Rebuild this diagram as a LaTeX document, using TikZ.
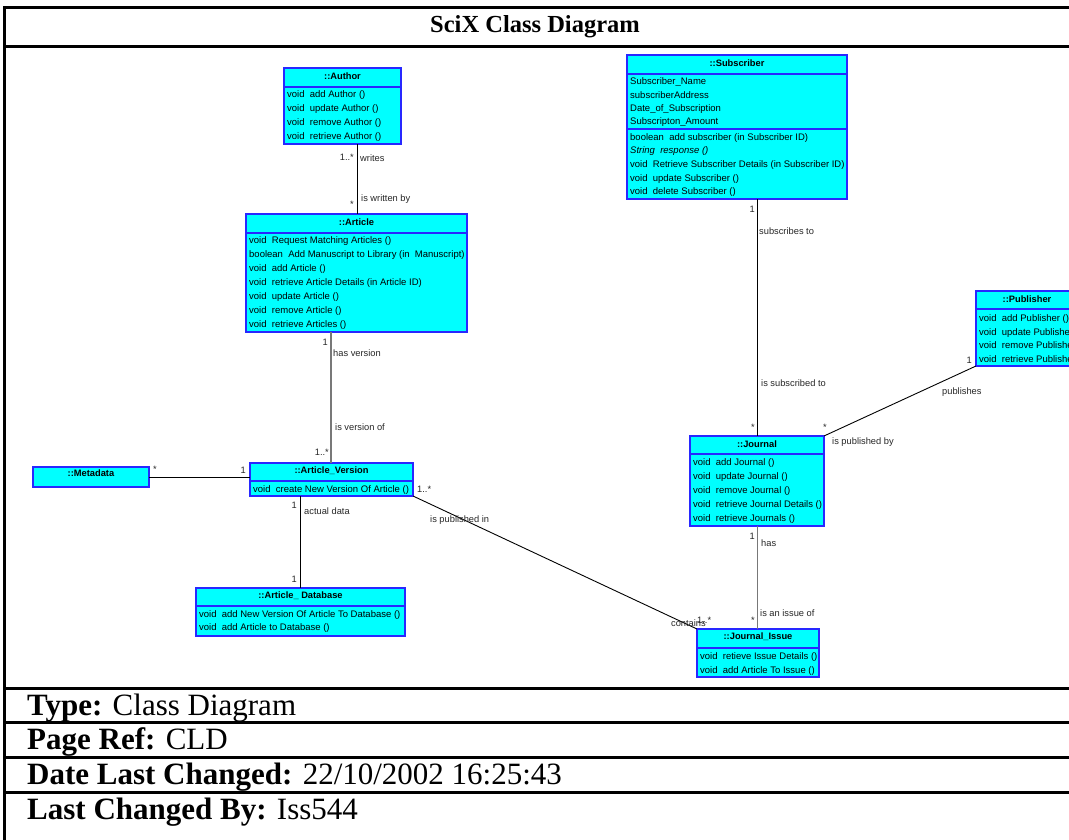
\documentclass[tikz,border=0pt]{standalone}
\usepackage{fontspec}
\setmainfont{Liberation Serif}
\newfontfamily\arialfont{Liberation Sans}
\usetikzlibrary{calc}
\definecolor{clsfill}{RGB}{0,255,255}
\definecolor{clsline}{RGB}{40,40,255}
\definecolor{linkgray}{RGB}{120,120,120}
\tikzset{
  clsbox/.style={draw=clsline, fill=clsfill, line width=1.2pt, inner sep=0pt, outer sep=0pt, anchor=north west},
  clssep/.style={draw=clsline, line width=2pt},
  attsep/.style={draw=clsline, line width=1.1pt},
  hdr/.style={font=\arialfont\bfseries\fontsize{9.3}{10}\selectfont, inner sep=0pt},
  meth/.style={font=\arialfont\fontsize{9.5}{10}\selectfont, inner sep=0pt, anchor=west},
  lbl/.style={font=\arialfont\fontsize{9.3}{10}\selectfont, inner sep=0pt, text=black!85},
  link/.style={draw=black, line width=0.9pt},
  glink/.style={draw=linkgray, line width=1.2pt},
  frame/.style={draw=black, line width=3pt},
  rowtxt/.style={font=\fontsize{31}{34}\selectfont, inner sep=0pt, anchor=west}
}
\begin{document}
\begin{tikzpicture}[x=1pt,y=-1pt]
\useasboundingbox (0,0) rectangle (1069,840);
\clip (0,0) rectangle (1069,840);

% outer form with title and information rows
\draw[frame] (4.5,7.5) rectangle (1090,870);
\draw[frame] (4.5,46.5) -- (1090,46.5);
\foreach \yy in {688,722.5,757.5,792.5} \draw[frame] (4.5,\yy) -- (1090,\yy);
\node[font=\bfseries\fontsize{24.5}{27}\selectfont, inner sep=0pt] (title) at (535,27) {SciX Class Diagram};
\node[rowtxt] (type) at (27,708) {\textbf{Type:} Class Diagram};
\node[rowtxt] (pref) at (27,742.5) {\textbf{Page Ref:} CLD};
\node[rowtxt] (dlc) at (27,777.5) {\textbf{Date Last Changed:} 22/10/2002 16:25:43};
\node[rowtxt] (lcb) at (27,812.5) {\textbf{Last Changed By:} Iss544};

% ::Author
\node[clsbox, minimum width=117pt, minimum height=76pt] (author) at (284,68) {};
\node[hdr] (authorh) at ($(author.north)+(0,8)$) {::Author};
\draw[clssep] (284,87) -- (401,87);
\node[meth] (au1) at (287,95.5) {void~ add Author ()};
\node[meth] (au2) at (287,109.5) {void~ update Author ()};
\node[meth] (au3) at (287,123.5) {void~ remove Author ()};
\node[meth] (au4) at (287,137.5) {void~ retrieve Author ()};

% ::Subscriber
\node[clsbox, minimum width=220pt, minimum height=144pt] (subscriber) at (627,55) {};
\node[hdr] (subscriberh) at ($(subscriber.north)+(0,8)$) {::Subscriber};
\draw[clssep] (627,74) -- (847,74);
\draw[attsep] (627,129) -- (847,129);
\node[meth] (su1) at (630,82) {Subscriber\_Name};
\node[meth] (su2) at (630,95.5) {subscriberAddress};
\node[meth] (su3) at (630,109) {Date\_of\_Subscription};
\node[meth] (su4) at (630,122.5) {Subscripton\_Amount};
\node[meth] (su5) at (630,138) {boolean~ add subscriber (in Subscriber ID)};
\node[meth] (su6) at (630,151.5) {\itshape String~ response ()};
\node[meth] (su7) at (630,165.5) {void~ Retrieve Subscriber Details (in Subscriber ID)};
\node[meth] (su8) at (630,179) {void~ update Subscriber ()};
\node[meth] (su9) at (630,192.5) {void~ delete Subscriber ()};

% ::Article
\node[clsbox, minimum width=221pt, minimum height=118pt] (article) at (246,214) {};
\node[hdr] (articleh) at ($(article.north)+(0,8)$) {::Article};
\draw[clssep] (246,233) -- (467,233);
\node[meth] (ar1) at (249,241.5) {void~ Request Matching Articles ()};
\node[meth] (ar2) at (249,255.5) {boolean~ Add Manuscript to Library (in~ Manuscript)};
\node[meth] (ar3) at (249,269.5) {void~ add Article ()};
\node[meth] (ar4) at (249,283.5) {void~ retrieve Article Details (in Article ID)};
\node[meth] (ar5) at (249,297.5) {void~ update Article ()};
\node[meth] (ar6) at (249,311.5) {void~ remove Article ()};
\node[meth] (ar7) at (249,325.5) {void~ retrieve Articles ()};

% ::Publisher (runs past the right edge of the sheet)
\node[clsbox, minimum width=140pt, minimum height=75pt] (publisher) at (976,291) {};
\node[hdr] (publisherh) at ($(publisher.north west)+(51,8)$) {::Publisher};
\draw[clssep] (976,309) -- (1116,309);
\node[meth] (pu1) at (979,319.5) {void~ add Publisher ()};
\node[meth] (pu2) at (979,333) {void~ update Publisher ()};
\node[meth] (pu3) at (979,346.5) {void~ remove Publisher ()};
\node[meth] (pu4) at (979,360) {void~ retrieve Publisher ()};

% ::Journal
\node[clsbox, minimum width=134pt, minimum height=90pt] (journal) at (690,436) {};
\node[hdr] (journalh) at ($(journal.north)+(0,8)$) {::Journal};
\draw[clssep] (690,454) -- (824,454);
\node[meth] (jo1) at (693,463) {void~ add Journal ()};
\node[meth] (jo2) at (693,477) {void~ update Journal ()};
\node[meth] (jo3) at (693,491) {void~ remove Journal ()};
\node[meth] (jo4) at (693,505) {void~ retrieve Journal Details ()};
\node[meth] (jo5) at (693,519) {void~ retrieve Journals ()};

% ::Metadata
\node[clsbox, minimum width=116pt, minimum height=20pt] (metadata) at (33,467) {};
\node[hdr] (metadatah) at ($(metadata.north)+(0,6)$) {::Metadata};

% ::Article_Version
\node[clsbox, minimum width=163pt, minimum height=33pt] (artver) at (250,463) {};
\node[hdr] (artverh) at ($(artver.north)+(0,8)$) {::Article\_Version};
\draw[clssep] (250,480.5) -- (413,480.5);
\node[meth] (av1) at (253,490) {void~ create New Version Of Article ()};

% ::Article_ Database
\node[clsbox, minimum width=209pt, minimum height=48pt] (artdb) at (196,588) {};
\node[hdr] (artdbh) at ($(artdb.north)+(0,8)$) {::Article\_ Database};
\draw[clssep] (196,606) -- (405,606);
\node[meth] (ad1) at (199,615) {void~ add New Version Of Article To Database ()};
\node[meth] (ad2) at (199,628.5) {void~ add Article to Database ()};

% ::Journal_Issue
\node[clsbox, minimum width=122pt, minimum height=48pt] (jissue) at (697,629) {};
\node[hdr] (jissueh) at ($(jissue.north)+(0,8)$) {::Journal\_Issue};
\draw[clssep] (697,648) -- (819,648);
\node[meth] (ji1) at (700,657) {void~ retieve Issue Details ()};
\node[meth] (ji2) at (700,671) {void~ add Article To Issue ()};

% associations
\coordinate (auart) at ($(author.south west)+(73,0)$);
\draw[link] (auart) -- (auart |- article.north);
\coordinate (artav) at ($(article.south west)+(85,0)$);
\draw[glink] (artav) -- (artav |- artver.north);
\coordinate (avdb) at ($(artver.south west)+(50,0)$);
\draw[link] (avdb) -- (avdb |- artdb.north);
\draw[link] (metadata.east) -- (metadata.east -| artver.west);
\coordinate (subjo) at ($(subscriber.south west)+(130,0)$);
\draw[link] (subjo) -- (subjo |- journal.north);
\coordinate (joji) at ($(journal.south west)+(67.5,0)$);
\draw[glink] (joji) -- (joji |- jissue.north);
\draw[link] (publisher.south west) -- (journal.north east);
\draw[link] (artver.south east) -- (jissue.north west);

% association end labels
\node[lbl, anchor=east] (l1) at (354,157) {1..*};
\node[lbl, anchor=west] (l2) at (360,158) {writes};
\node[lbl, anchor=east] (l3) at (354,204) {*};
\node[lbl, anchor=west] (l4) at (361,199) {is written by};

\node[lbl, anchor=east] (l5) at (328,342) {1};
\node[lbl, anchor=west] (l6) at (333,353) {has version};
\node[lbl, anchor=west] (l7) at (335,427) {is version of};
\node[lbl, anchor=east] (l8) at (329,452) {1..*};

\node[lbl, anchor=west] (l9) at (153,469) {*};
\node[lbl, anchor=east] (l10) at (246,470) {1};

\node[lbl, anchor=east] (l11) at (297,505) {1};
\node[lbl, anchor=west] (l12) at (304,511) {actual data};
\node[lbl, anchor=east] (l13) at (297,579) {1};

\node[lbl, anchor=west] (l14) at (417,489) {1..*};
\node[lbl, anchor=west] (l15) at (430,520) {is published in};
\node[lbl, anchor=east] (l16) at (706,623) {contains};
\node[lbl, anchor=west] (l17) at (697,620) {1..*};

\node[lbl, anchor=east] (l18) at (755,209) {1};
\node[lbl, anchor=west] (l19) at (759,231) {subscribes to};
\node[lbl, anchor=west] (l20) at (761,383) {is subscribed to};
\node[lbl, anchor=east] (l21) at (755,427) {*};

\node[lbl, anchor=east] (l22) at (972,360) {1};
\node[lbl, anchor=west] (l23) at (942,392) {publishes};
\node[lbl, anchor=east] (l24) at (827,427) {*};
\node[lbl, anchor=west] (l25) at (832,442) {is published by};

\node[lbl, anchor=east] (l26) at (755,536) {1};
\node[lbl, anchor=west] (l27) at (761,543) {has};
\node[lbl, anchor=west] (l28) at (760,613) {is an issue of};
\node[lbl, anchor=east] (l29) at (755,620) {*};
\end{tikzpicture}
\end{document}
